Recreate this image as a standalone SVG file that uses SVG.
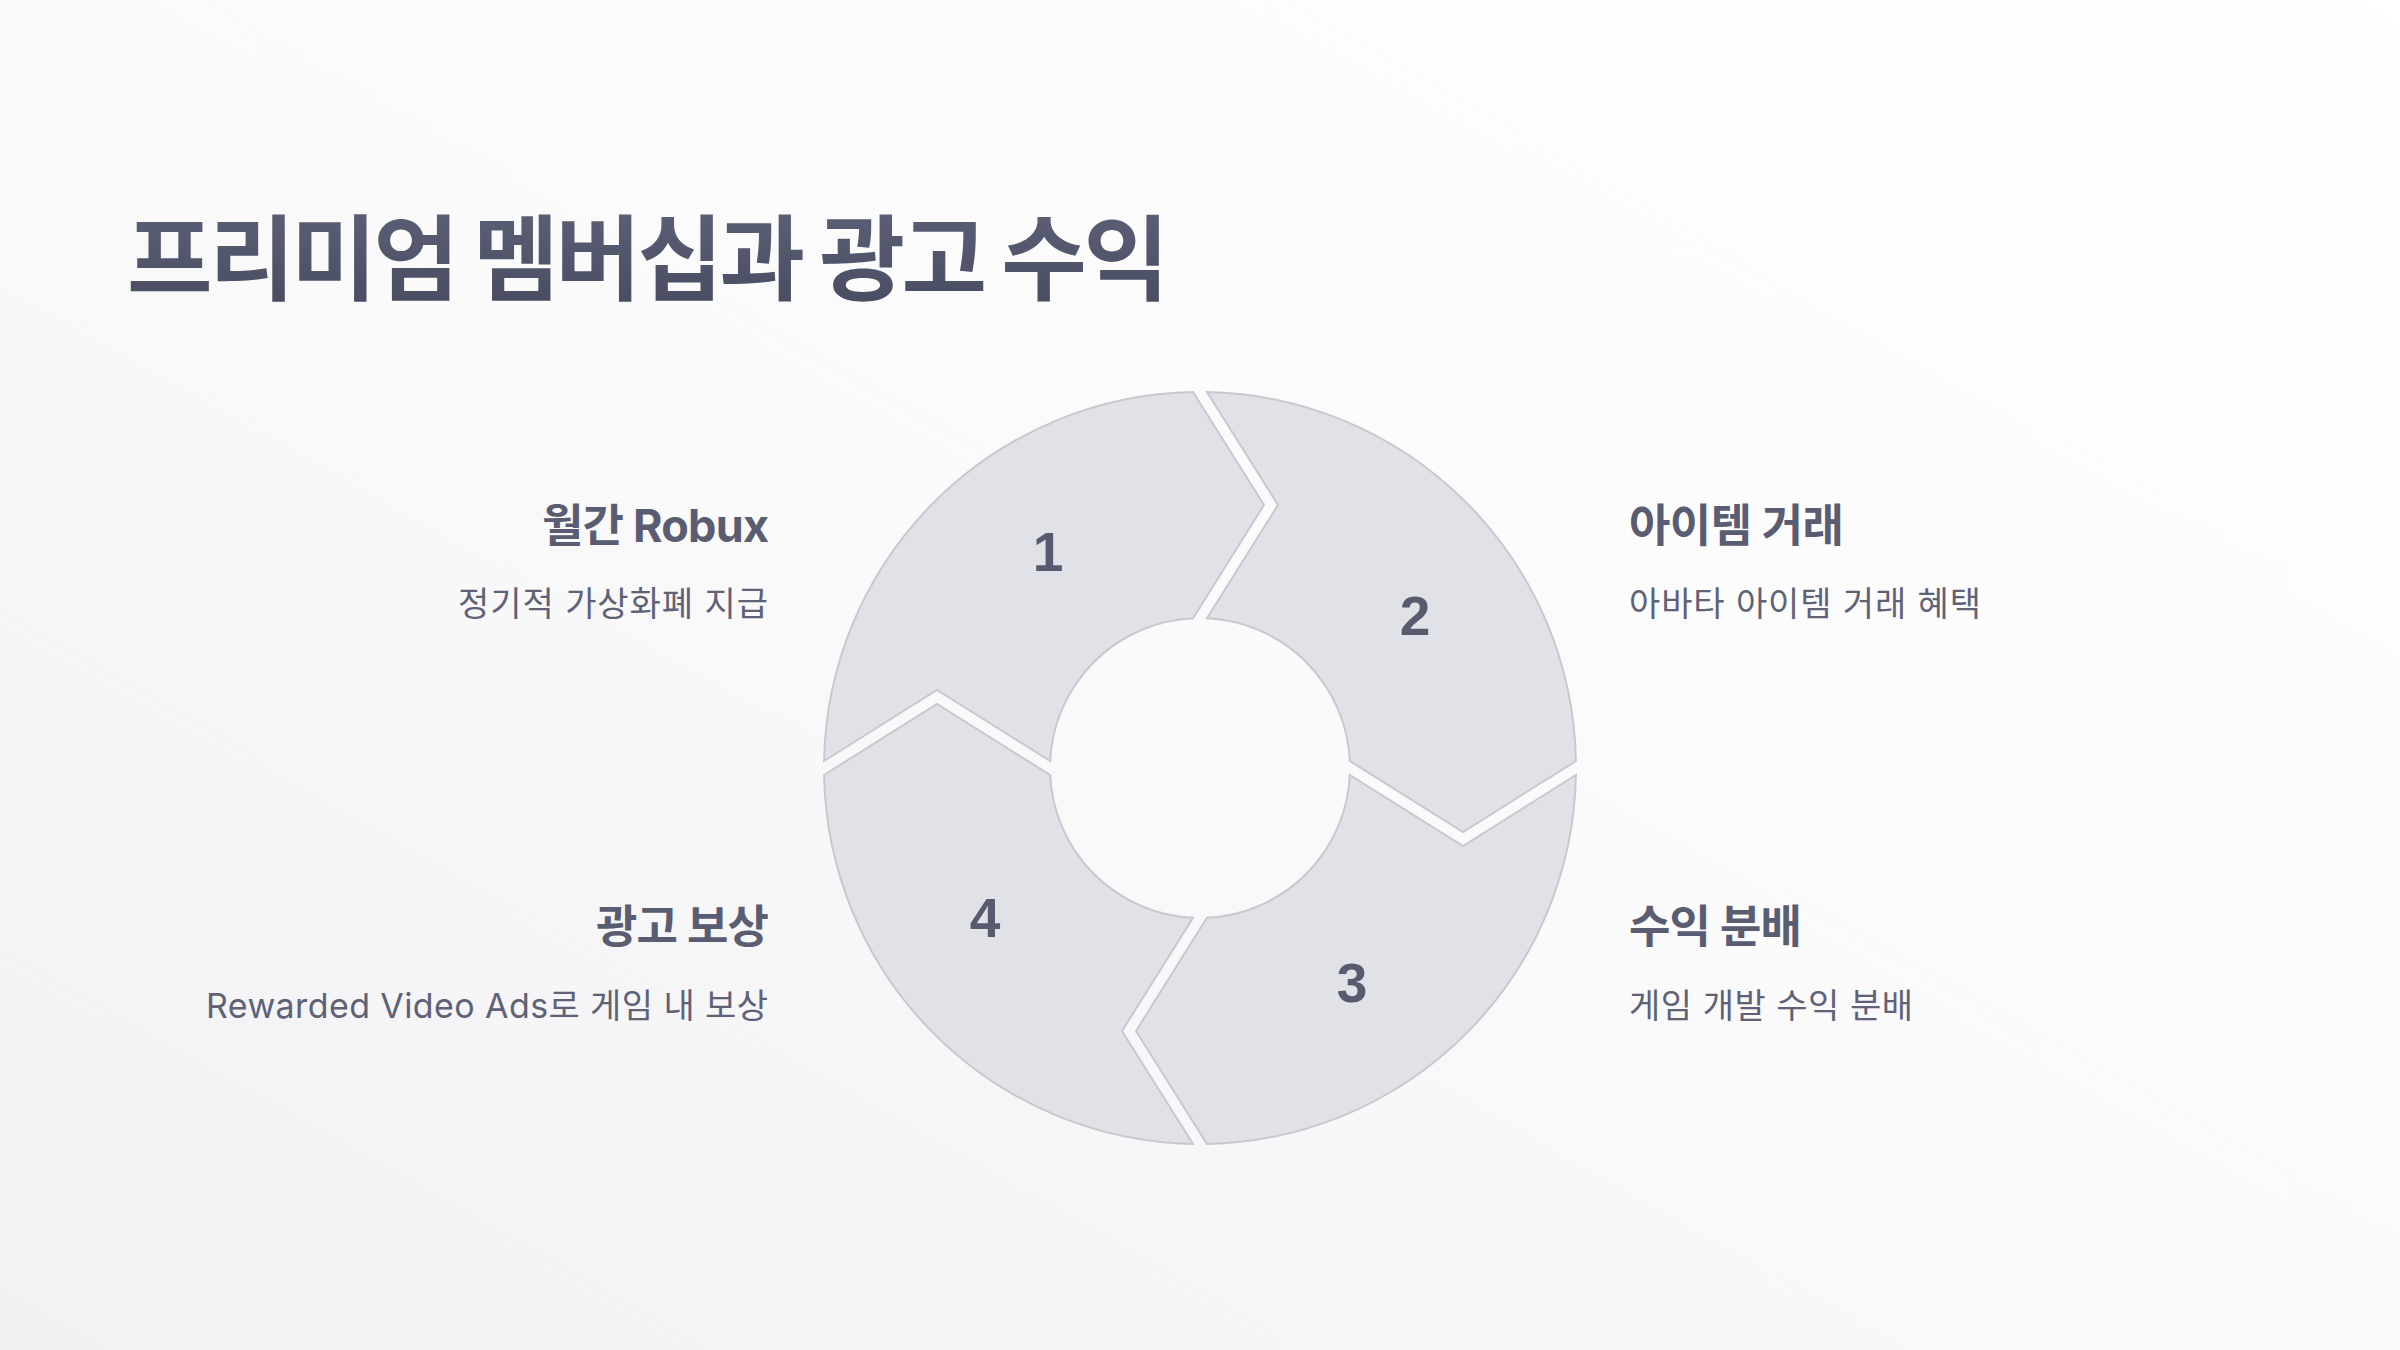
<svg xmlns="http://www.w3.org/2000/svg" width="2400" height="1350" viewBox="0 0 2400 1350">
  <defs>
    <linearGradient id="bg" x1="1" y1="0" x2="0" y2="1">
      <stop offset="0" stop-color="#ffffff"/>
      <stop offset="0.5" stop-color="#fafafb"/>
      <stop offset="1" stop-color="#f1f1f3"/>
    </linearGradient>
    <linearGradient id="titleGrad" x1="0" y1="0" x2="0" y2="1">
      <stop offset="0" stop-color="#60647a"/>
      <stop offset="1" stop-color="#454a5f"/>
    </linearGradient>
    <style>
      .seg { fill: #e1e2e7; stroke: #c8c9d0; stroke-width: 2; stroke-linejoin: miter; }
      .num { font-family: "Liberation Sans", Arial, sans-serif; font-weight: 700; font-size: 55px; fill: #585b6f; text-anchor: middle; }
      .h { font-family: Inter, "Noto Sans CJK KR", sans-serif; font-weight: 700; font-size: 45px; fill: #5a5d72; }
      .s { font-family: Inter, "Noto Sans CJK KR", sans-serif; font-weight: 400; font-size: 34px; fill: #5f6276; }
      .title { font-family: "Noto Sans CJK KR", sans-serif; font-weight: 700; font-size: 93px; fill: url(#titleGrad); }
    </style>
  </defs>

  <rect x="0" y="0" width="2400" height="1350" fill="url(#bg)"/>

  <g id="title">
    <text class="title" x="127" y="293" textLength="1042" lengthAdjust="spacing">프리미엄 멤버십과 광고 수익</text>
  </g>

  <g id="connectors"></g>

  <g id="segment-1">
    <path class="seg" d="M824.07,761 A376,376 0 0 1 1193,392.07 L1264,505 L1193,618.16 A150,150 0 0 0 1050.16,761 L937,690 Z"/>
    <text class="num" x="1048" y="571">1</text>
  </g>
  <g id="segment-2">
    <path class="seg" d="M1207,392.07 A376,376 0 0 1 1575.93,761 L1463,832 L1349.84,761 A150,150 0 0 0 1207,618.16 L1278,505 Z"/>
    <text class="num" x="1415" y="635">2</text>
  </g>
  <g id="segment-3">
    <path class="seg" d="M1575.93,775 A376,376 0 0 1 1207,1143.93 L1136,1031 L1207,917.84 A150,150 0 0 0 1349.84,775 L1463,846 Z"/>
    <text class="num" x="1352" y="1002">3</text>
  </g>
  <g id="segment-4">
    <path class="seg" d="M1193,1143.93 A376,376 0 0 1 824.07,775 L937,704 L1050.16,775 A150,150 0 0 0 1193,917.84 L1122,1031 Z"/>
    <text class="num" x="985" y="937">4</text>
  </g>

  <g id="label-1">
    <text class="h" x="769" y="542" text-anchor="end" textLength="227" lengthAdjust="spacing">월간 Robux</text>
    <text class="s" x="768" y="616" text-anchor="end" textLength="310" lengthAdjust="spacing">정기적 가상화폐 지급</text>
  </g>
  <g id="label-2">
    <text class="h" x="1629" y="542" textLength="215" lengthAdjust="spacing">아이템 거래</text>
    <text class="s" x="1629" y="616" textLength="352" lengthAdjust="spacing">아바타 아이템 거래 혜택</text>
  </g>
  <g id="label-3">
    <text class="h" x="1629" y="943" textLength="173" lengthAdjust="spacing">수익 분배</text>
    <text class="s" x="1629" y="1018" textLength="284" lengthAdjust="spacing">게임 개발 수익 분배</text>
  </g>
  <g id="label-4">
    <text class="h" x="769" y="943" text-anchor="end" textLength="173" lengthAdjust="spacing">광고 보상</text>
    <text class="s" x="768" y="1018" text-anchor="end" textLength="562" lengthAdjust="spacing">Rewarded Video Ads로 게임 내 보상</text>
  </g>
</svg>
